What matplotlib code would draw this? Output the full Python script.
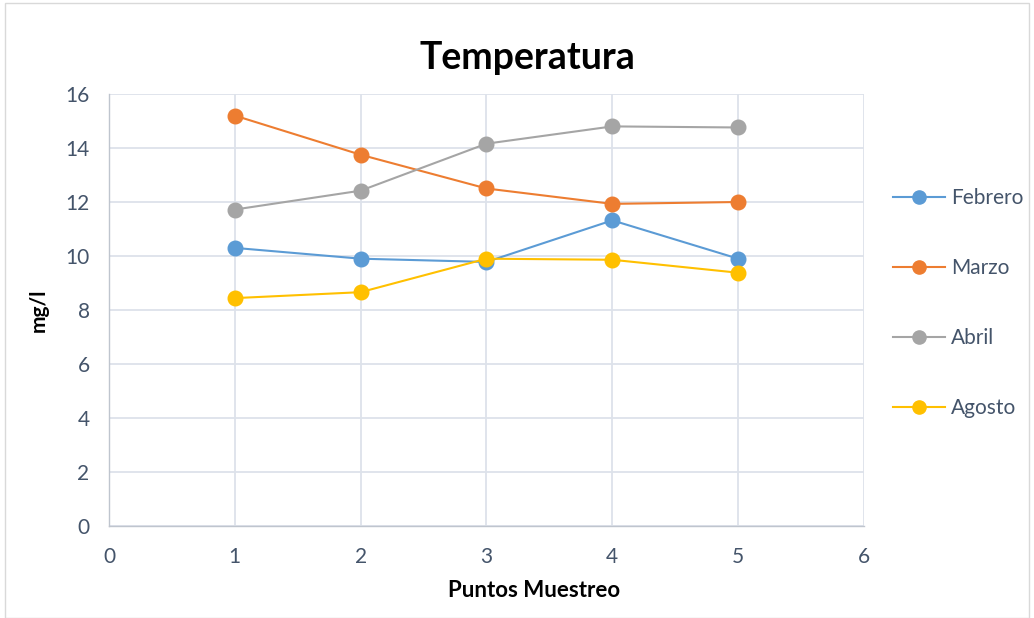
import matplotlib.pyplot as plt
from matplotlib.patches import Rectangle

plt.rcParams['font.family'] = ['Lato', 'DejaVu Sans']

# datos
puntos = [1, 2, 3, 4, 5]
febrero = [10.30, 9.90, 9.78, 11.32, 9.90]
marzo = [15.20, 13.75, 12.50, 11.93, 12.00]
abril = [11.72, 12.42, 14.16, 14.80, 14.76]
agosto = [8.44, 8.66, 9.90, 9.86, 9.38]

series = [("Febrero", febrero, "#5B9BD5"),
          ("Marzo", marzo, "#ED7D31"),
          ("Abril", abril, "#A5A5A5"),
          ("Agosto", agosto, "#FFC000")]

tick_color = "#44546A"
grid_color = "#DDE2EA"

fig = plt.figure(figsize=(10.34, 6.18), dpi=100)
ax = fig.add_axes([0.1054, 0.1489, 0.7302, 0.699])

for name, vals, col in series:
    ax.plot(puntos, vals, color=col, linewidth=1.5, marker='o', markersize=10.5,
            markerfacecolor=col, markeredgecolor=col, label=name, zorder=3)

ax.set_xlim(0, 6)
ax.set_ylim(0, 16)
ax.set_xticks(range(0, 7))
ax.set_yticks(range(0, 17, 2))
ax.grid(True, color=grid_color, linewidth=1.3)
ax.set_axisbelow(True)
for s in ["top", "right"]:
    ax.spines[s].set_visible(False)
for s in ["left", "bottom"]:
    ax.spines[s].set_color("#BFC5CE")
    ax.spines[s].set_linewidth(1.0)
ax.tick_params(length=0, labelsize=15, labelcolor=tick_color)
ax.tick_params(axis='x', pad=15)
ax.tick_params(axis='y', pad=14)

fig.text(0.51, 0.906, "Temperatura", fontsize=27, fontweight='bold',
         ha='center', va='center')
ax.set_xlabel("Puntos Muestreo", fontsize=16, fontweight='bold', va='center')
ax.xaxis.set_label_coords(0.563, -0.150)
ax.set_ylabel("mg/l", fontsize=15, fontweight='bold', labelpad=12)

leg = ax.legend(loc='center left', bbox_to_anchor=(0.8636, 0.509),
                bbox_transform=fig.transFigure, frameon=False, fontsize=15,
                labelspacing=2.4, handlelength=2.5, handletextpad=0.3,
                borderpad=0, borderaxespad=0, labelcolor=tick_color)
for h in leg.legend_handles:
    h.set_markersize(9.5)

fig.patches.append(Rectangle((0.005, 0.0), 0.99, 0.995, transform=fig.transFigure,
                             fill=False, edgecolor="#D9D9D9", linewidth=1.0))

plt.savefig("out.png", dpi=100)
